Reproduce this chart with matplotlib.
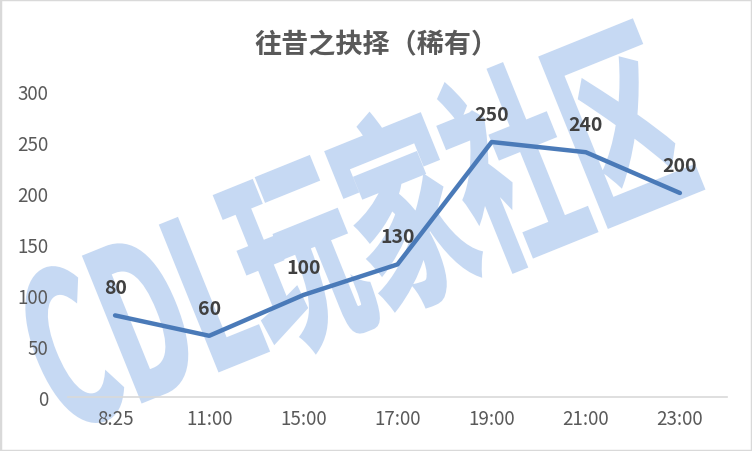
"""
往昔之抉择（稀有） - line chart with watermark
"""
import matplotlib
matplotlib.use('Agg')
import matplotlib.pyplot as plt
from matplotlib.textpath import TextPath
from matplotlib.font_manager import FontProperties
from matplotlib.patches import PathPatch, Rectangle
from matplotlib.transforms import Affine2D

plt.rcParams['font.family'] = ['Noto Sans CJK SC', 'DejaVu Sans']

# Data
times = ['8:25', '11:00', '15:00', '17:00', '19:00', '21:00', '23:00']
values = [80, 60, 100, 130, 250, 240, 200]
y_ticks = [0, 50, 100, 150, 200, 250, 300]
title = '往昔之抉择（稀有）'
watermark = 'CDL玩家社区'

W, H, DPI = 752, 452, 100
fig = plt.figure(figsize=(W / DPI, H / DPI), dpi=DPI)
fig.patch.set_facecolor('white')

# Watermark (drawn in pixel space, behind the chart)
tp = TextPath((0, 0), watermark, size=1,
              prop=FontProperties(family='Noto Sans CJK SC', weight='heavy'))
ext = tp.get_extents()
sx = 680 / ext.width
sy = 200 / ext.height
wm_tr = (Affine2D().translate(-ext.x0, -ext.y0).scale(sx, sy)
         .rotate_deg(22).translate(75, H - 450)
         .scale(1 / DPI) + fig.dpi_scale_trans)
fig.add_artist(PathPatch(tp, transform=wm_tr, facecolor='#c6d9f3',
                         edgecolor='#c6d9f3', linewidth=2.5, zorder=0))

ax = fig.add_axes([68 / W, 54 / H, (727 - 68) / W, (360 - 54) / H])
ax.set_facecolor('none')
ax.set_zorder(2)

x = list(range(len(times)))
ax.plot(x, values, color='#4a7ab8', linewidth=3.2, solid_capstyle='round',
        solid_joinstyle='round', zorder=3)

for xi, v in zip(x, values):
    ax.annotate(f'{v}', (xi, v), xytext=(0, 13), textcoords='offset points',
                ha='center', va='bottom', fontsize=14, fontweight='bold',
                color='#404040')

ax.set_xlim(-0.5, len(times) - 0.5)
ax.set_ylim(0, 300)
ax.set_xticks(x)
ax.set_xticklabels(times)
ax.set_yticks(y_ticks)
ax.tick_params(axis='both', length=0, labelsize=13.5, labelcolor='#595959')
ax.tick_params(axis='x', pad=8)
ax.tick_params(axis='y', pad=14)

for side in ['top', 'right', 'left']:
    ax.spines[side].set_visible(False)
ax.spines['bottom'].set_color('#d9d9d9')
ax.spines['bottom'].set_linewidth(1.2)

fig.text(0.5, 1 - 45 / H, title, ha='center', va='center', fontsize=19.5,
         fontweight='bold', color='#595959')

# Outer border
fig.add_artist(Rectangle((0, 0), 1, 1, transform=fig.transFigure, fill=False,
                         edgecolor='#d9d9d9', linewidth=2.5, zorder=5))

fig.savefig('out.png', dpi=DPI, facecolor='white')
